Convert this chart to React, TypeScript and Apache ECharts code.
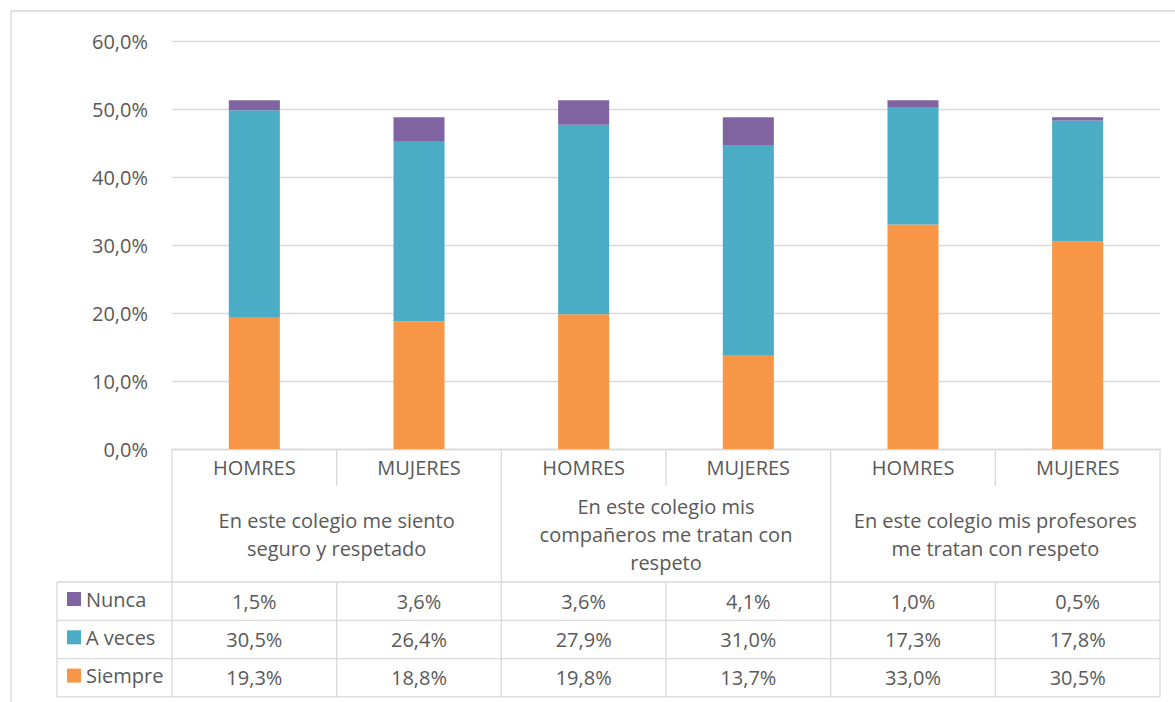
import React, { useEffect, useRef } from "react";
import * as echarts from "echarts";

const categories = ["HOMRES", "MUJERES", "HOMRES", "MUJERES", "HOMRES", "MUJERES"];
const groups = [
  "En este colegio me siento\nseguro y respetado",
  "En este colegio mis\ncompañeros me tratan con\nrespeto",
  "En este colegio mis profesores\nme tratan con respeto",
];
const seriesNames = ["Nunca", "A veces", "Siempre"];
const nunca = [1.5, 3.6, 3.6, 4.1, 1.0, 0.5];
const aVeces = [30.5, 26.4, 27.9, 31.0, 17.3, 17.8];
const siempre = [19.3, 18.8, 19.8, 13.7, 33.0, 30.5];
const colors = { Nunca: "#8064A2", "A veces": "#4BACC6", Siempre: "#F79646" };
const yTicks = { min: 0, max: 60, interval: 10 };

const W = 1175;
const H = 702;
const L = 172;
const R = 1160;
const T = 41;
const B = 449;
const FONT = "'Open Sans', sans-serif";
const TXT = "#595959";
const LINE = "#d9d9d9";

const fmt = (v: number) => v.toFixed(1).replace(".", ",") + "%";

export default function App() {
  const ref = useRef<HTMLDivElement>(null);
  useEffect(() => {
    if (!ref.current) return;
    const chart = echarts.init(ref.current, undefined, { renderer: "svg" });
    const colW = (R - L) / categories.length;
    const headerBottom = 486;
    const groupBottom = 582;
    const rowH = 38.3;
    const rows = [groupBottom, groupBottom + rowH, groupBottom + 2 * rowH, groupBottom + 3 * rowH];
    const tableBottom = rows[3];
    const legendLeft = 57;

    const lines: any[] = [];
    const hl = (x1: number, x2: number, y: number) =>
      lines.push({ type: "line", shape: { x1, y1: y, x2, y2: y }, style: { stroke: LINE, lineWidth: 1.3 } });
    const vl = (x: number, y1: number, y2: number) =>
      lines.push({ type: "line", shape: { x1: x, y1, x2: x, y2 }, style: { stroke: LINE, lineWidth: 1.3 } });
    rows.forEach((y) => hl(legendLeft, R, y));
    vl(legendLeft, groupBottom, tableBottom);
    for (let i = 0; i <= categories.length; i++) {
      const x = L + i * colW;
      if (i % 2 === 0) vl(x, B, tableBottom);
      else {
        vl(x, B, headerBottom);
        vl(x, groupBottom, tableBottom);
      }
    }
    // outer chart border
    lines.push({
      type: "rect",
      shape: { x: 11, y: 11, width: 1300, height: 900 },
      style: { fill: "none", stroke: LINE, lineWidth: 1.3 },
    });

    const rowSeries = [nunca, aVeces, siempre];
    const valueAxes = rowSeries.map((arr, i) => ({
      type: "category",
      data: arr.map(fmt),
      position: "bottom",
      axisLine: { show: false },
      axisTick: { show: false },
      axisLabel: {
        interval: 0,
        margin: groupBottom + rowH * (i + 0.5) - B,
        verticalAlign: "middle",
        fontSize: 20,
        fontFamily: FONT,
        color: TXT,
      },
    }));

    chart.setOption({
      animation: false,
      backgroundColor: "#fff",
      grid: { left: L, right: W - R, top: T, bottom: H - B },
      legend: {
        data: seriesNames,
        orient: "vertical",
        left: 62,
        top: groupBottom + 2,
        itemWidth: 14,
        itemHeight: 14,
        itemGap: 18.3,
        icon: "rect",
        textStyle: { fontSize: 20, fontFamily: FONT, color: TXT, lineHeight: 20 },
      },
      xAxis: [
        {
          type: "category",
          data: categories,
          axisLine: { lineStyle: { color: LINE, width: 1.3 } },
          axisTick: { show: false },
          axisLabel: {
            interval: 0,
            margin: 18,
            verticalAlign: "middle",
            fontSize: 20,
            fontFamily: FONT,
            color: TXT,
          },
        },
        {
          type: "category",
          data: groups,
          position: "bottom",
          axisLine: { show: false },
          axisTick: { show: false },
          axisLabel: {
            interval: 0,
            margin: (headerBottom + groupBottom) / 2 - B,
            verticalAlign: "middle",
            fontSize: 20,
            lineHeight: 28,
            fontFamily: FONT,
            color: TXT,
          },
        },
        ...valueAxes,
      ],
      yAxis: {
        type: "value",
        min: yTicks.min,
        max: yTicks.max,
        interval: yTicks.interval,
        axisLine: { show: false },
        axisTick: { show: false },
        splitLine: { lineStyle: { color: LINE, width: 1.3 } },
        axisLabel: {
          margin: 24,
          fontSize: 20,
          fontFamily: FONT,
          color: TXT,
          formatter: (v: number) => fmt(v),
        },
      },
      series: [
        { name: "Siempre", type: "bar", stack: "t", data: siempre, barWidth: "31%", itemStyle: { color: colors.Siempre } },
        { name: "A veces", type: "bar", stack: "t", data: aVeces, barWidth: "31%", itemStyle: { color: colors["A veces"] } },
        { name: "Nunca", type: "bar", stack: "t", data: nunca, barWidth: "31%", itemStyle: { color: colors.Nunca } },
      ],
      graphic: lines,
    });
    return () => chart.dispose();
  }, []);
  return (
    <div
      ref={ref}
      style={{ position: "fixed", left: 0, top: 0, width: W, height: H }}
    />
  );
}
